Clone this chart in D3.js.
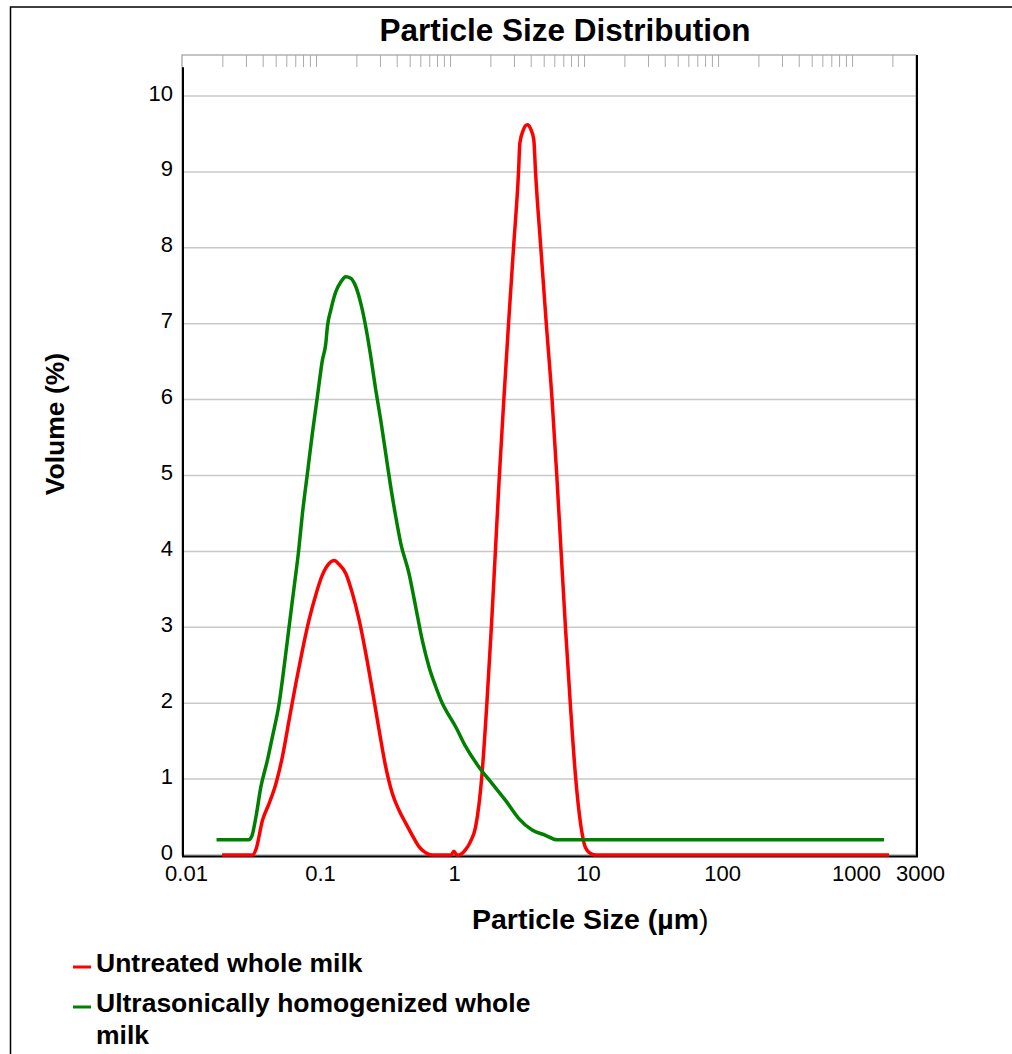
<!DOCTYPE html>
<html>
<head>
<meta charset="utf-8">
<script src="https://cdn.jsdelivr.net/npm/d3@7"></script>
<style>
  body { margin: 0; background: #fff; }
  svg { display: block; font-family: "Liberation Sans", Arial, sans-serif; }
</style>
</head>
<body>
<svg id="chart" width="1012" height="1054"></svg>
<script>
// particle size (µm) and volume (%)
const untreatedSize = [0.0199, 0.0336, 0.0356, 0.0399, 0.0447, 0.0502, 0.0562, 0.0630, 0.0707, 0.0792,
    0.0888, 0.0997, 0.1116, 0.1252, 0.1364, 0.1486, 0.1668, 0.1867, 0.2095, 0.2350,
    0.2633, 0.2953, 0.3313, 0.3710, 0.4162, 0.4669, 0.5228, 0.5866, 0.6580, 0.7370,
    1.02, 1.07, 1.12, 1.165, 1.307, 1.424, 1.552, 1.720, 1.884, 2.034,
    2.180, 2.335, 2.521, 2.733, 2.978, 3.245, 3.32, 3.52, 3.77, 3.99,
    4.22, 4.345, 4.758, 5.228, 5.775, 6.261, 6.741, 7.267, 7.894, 8.676,
    9.66, 10.24, 11.47, 12.3, 1890];
const untreatedVolume = [0, 0, 0.07, 0.46, 0.68, 0.94, 1.30, 1.78, 2.26, 2.70,
    3.10, 3.43, 3.69, 3.84, 3.88, 3.83, 3.71, 3.45, 3.10, 2.66,
    2.17, 1.65, 1.16, 0.81, 0.59, 0.42, 0.26, 0.11, 0.03, 0,
    0, 0.05, 0, 0, 0.07, 0.18, 0.37, 1.0, 2.0, 3.0,
    4.0, 5.0, 6.0, 7.0, 8.0, 9.0, 9.38, 9.55, 9.62, 9.57,
    9.42, 9.0, 8.0, 7.0, 6.0, 5.0, 4.0, 3.0, 2.0, 1.0,
    0.29, 0.10, 0.01, 0, 0];

const homogenizedSize = [0.0181, 0.0314, 0.0332, 0.0356, 0.0388, 0.0434, 0.0473, 0.0531, 0.0578, 0.0630,
    0.0683, 0.0741, 0.0792, 0.0863, 0.0940, 0.1024, 0.1116, 0.1183, 0.1216, 0.1289,
    0.1404, 0.1531, 0.1668, 0.1817, 0.1980, 0.2157, 0.2350, 0.2561, 0.2790, 0.3040,
    0.3313, 0.3610, 0.3933, 0.4285, 0.4939, 0.5542, 0.6207, 0.6963, 0.7813, 0.8749,
    0.9812, 1.101, 1.307, 1.642, 2.063, 2.596, 3.262, 4.098, 5.157, 6.292, 1732];
const homogenizedVolume = [0.2, 0.2, 0.25, 0.5, 0.90, 1.25, 1.56, 2.0, 2.48, 3.01,
    3.50, 4.0, 4.50, 5.03, 5.56, 6.04, 6.52, 6.74, 6.96, 7.18,
    7.42, 7.55, 7.62, 7.60, 7.49, 7.27, 6.96, 6.57, 6.13, 5.73,
    5.29, 4.85, 4.46, 4.11, 3.71, 3.27, 2.83, 2.48, 2.22, 2.0,
    1.84, 1.69, 1.43, 1.16, 0.94, 0.72, 0.48, 0.33, 0.26, 0.2, 0.2];

const xTickValues = [0.01, 0.1, 1, 10, 100, 1000, 3000];
const xTickLabels = ["0.01", "0.1", "1", "10", "100", "1000", "3000"];
const yTickValues = [0, 1, 2, 3, 4, 5, 6, 7, 8, 9, 10];

const series = [
    { name: "Untreated whole milk", color: "#ff0000", size: untreatedSize, volume: untreatedVolume },
    { name: "Ultrasonically homogenized whole milk", color: "#008000", size: homogenizedSize, volume: homogenizedVolume }
];

const frame = { left: 182, right: 916, top: 55, bottom: 855 };

let x = d3.scaleLog().domain([0.01, 3000]).range([frame.left, frame.right]);
let y = d3.scaleLinear().domain([0, 10.54]).range([frame.bottom, frame.top]);

let svg = d3.select("#chart");

// outer border (top and left only are inside the picture)
svg.append("path")
    .attr("d", "M10.5,1054 V7 H1012")
    .attr("fill", "none")
    .attr("stroke", "#000")
    .attr("stroke-width", 1.5);

// gridlines
svg.append("g")
    .selectAll("line")
    .data(yTickValues.filter(d => d > 0))
    .join("line")
        .attr("x1", frame.left)
        .attr("x2", frame.right)
        .attr("y1", d => y(d))
        .attr("y2", d => y(d))
        .attr("stroke", "#c8c8c8")
        .attr("stroke-width", 1.5);

// plot frame
svg.append("rect")
    .attr("x", frame.left)
    .attr("y", frame.top)
    .attr("width", frame.right - frame.left)
    .attr("height", frame.bottom - frame.top)
    .attr("fill", "none")
    .attr("stroke", "#8a8a8a")
    .attr("stroke-width", 1);

// minor log ticks hanging from the top edge
let topAxis = d3.axisBottom(x)
    .tickValues(x.ticks().filter(d => d > 0.011 && d < 2999))
    .tickSize(12)
    .tickFormat("");
let topG = svg.append("g")
    .attr("transform", `translate(0, ${frame.top})`)
    .call(topAxis);
topG.select(".domain").remove();
topG.selectAll(".tick line").attr("stroke", "#aaa").attr("stroke-width", 1);

// dark axis lines
svg.append("line")
    .attr("x1", frame.left + 1).attr("x2", frame.left + 1)
    .attr("y1", y(10.38)).attr("y2", frame.bottom + 2)
    .attr("stroke", "#000").attr("stroke-width", 2);
svg.append("line")
    .attr("x1", frame.left).attr("x2", frame.right + 2)
    .attr("y1", frame.bottom + 1.5).attr("y2", frame.bottom + 1.5)
    .attr("stroke", "#000").attr("stroke-width", 2);
svg.append("line")
    .attr("x1", frame.right + 1).attr("x2", frame.right + 1)
    .attr("y1", frame.top).attr("y2", frame.bottom + 2)
    .attr("stroke", "#000").attr("stroke-width", 2);

// x tick labels
let xAxis = d3.axisBottom(x)
    .tickValues(xTickValues)
    .tickSize(0)
    .tickFormat((d, i) => xTickLabels[i]);
let xG = svg.append("g")
    .attr("transform", `translate(4, ${frame.bottom})`)
    .call(xAxis);
xG.select(".domain").remove();
xG.selectAll("text")
    .attr("y", 26)
    .attr("dy", null)
    .attr("fill", "#000")
    .style("font-size", "22px")
    .style("font-family", "Liberation Sans, Arial, sans-serif");

// y tick labels
let yAxis = d3.axisLeft(y)
    .tickValues(yTickValues)
    .tickSize(0)
    .tickFormat(d3.format("d"));
let yG = svg.append("g")
    .attr("transform", `translate(${frame.left - 9}, -3)`)
    .call(yAxis);
yG.select(".domain").remove();
yG.selectAll("text")
    .attr("x", 0)
    .attr("fill", "#000")
    .style("font-size", "22px")
    .style("font-family", "Liberation Sans, Arial, sans-serif");

// curves
let line = d3.line()
    .curve(d3.curveMonotoneX)
    .x(d => x(d[0]))
    .y(d => y(d[1]));

svg.append("g")
    .selectAll("path")
    .data(series)
    .join("path")
        .attr("d", s => line(d3.zip(s.size, s.volume)))
        .attr("fill", "none")
        .attr("stroke", s => s.color)
        .attr("stroke-width", 3.5)
        .attr("stroke-linejoin", "round");

// title and axis titles
svg.append("text")
    .attr("x", 565)
    .attr("y", 41)
    .attr("text-anchor", "middle")
    .style("font-size", "31.5px")
    .style("font-weight", "bold")
    .text("Particle Size Distribution");

let xTitle = svg.append("text")
    .attr("x", 472)
    .attr("y", 929)
    .style("font-size", "28.5px")
    .style("font-weight", "bold");
xTitle.append("tspan").text("Particle Size (µm");
xTitle.append("tspan").style("font-weight", "normal").text(")");

svg.append("text")
    .attr("transform", "translate(64, 424) rotate(-90)")
    .attr("text-anchor", "middle")
    .style("font-size", "26.5px")
    .style("font-weight", "bold")
    .text("Volume (%)");

// legend
let legendRows = [
    { color: series[0].color, lines: ["Untreated whole milk"], y: 972 },
    { color: series[1].color, lines: ["Ultrasonically homogenized whole", "milk"], y: 1012 }
];
let legend = svg.append("g");
legendRows.forEach(r => {
    legend.append("line")
        .attr("x1", 73).attr("x2", 91)
        .attr("y1", r.y - 5).attr("y2", r.y - 5)
        .attr("stroke", r.color)
        .attr("stroke-width", 3);
    let t = legend.append("text")
        .attr("x", 96)
        .attr("y", r.y)
        .style("font-size", "26.5px")
        .style("font-weight", "bold");
    r.lines.forEach((l, i) => {
        t.append("tspan")
            .attr("x", 96)
            .attr("dy", i ? 32 : 0)
            .text(l);
    });
});
</script>
</body>
</html>
